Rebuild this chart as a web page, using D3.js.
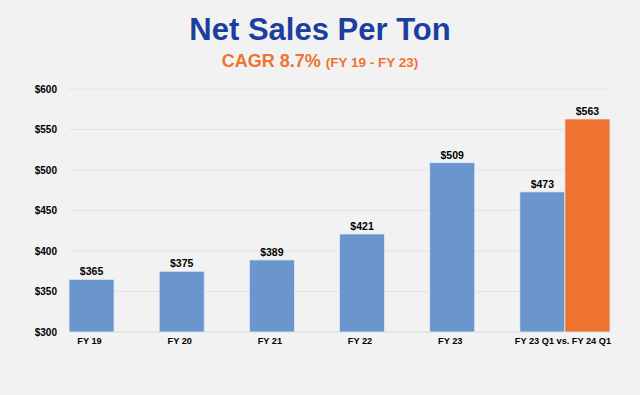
<!DOCTYPE html>
<html lang="en">
<head>
	<meta charset="UTF-8">
	<title>Net Sales Per Ton</title>
	<script src="https://cdn.jsdelivr.net/npm/d3@7"></script>
	<style>
		html, body { margin: 0; padding: 0; background: #f2f2f2; }
		svg { display: block; font-family: "Liberation Sans", Arial, sans-serif; }
	</style>
</head>
<body>
	<svg id="svg"></svg>
	<script>
		var categories = ["FY 19", "FY 20", "FY 21", "FY 22", "FY 23", "FY 23 Q1 vs. FY 24 Q1"];
		var series = ["base", "current"];
		var baseValues = [365, 375, 389, 421, 509, 473];
		var currentValues = [null, null, null, null, null, 563];
		var yTicks = [300, 350, 400, 450, 500, 550, 600];

		var w = 640, h = 395,
			svg = d3.select("#svg").attr("width", w).attr("height", h);

		svg.append("rect").attr("width", w).attr("height", h).attr("fill", "#f2f2f2");

		// title block
		svg.append("text")
			.attr("x", 320).attr("y", 40)
			.attr("text-anchor", "middle")
			.attr("font-size", 31).attr("font-weight", "bold")
			.attr("fill", "#1c3f9f")
			.text("Net Sales Per Ton");

		var sub = svg.append("text")
			.attr("x", 320).attr("y", 67)
			.attr("text-anchor", "middle")
			.attr("font-weight", "bold")
			.attr("fill", "#ed7431");
		sub.append("tspan").attr("font-size", 18).text("CAGR 8.7% ");
		sub.append("tspan").attr("font-size", 13.5).text("(FY 19 - FY 23)");

		var x0 = d3.scaleBand().domain(categories).range([69, 610]).padding(0);
		var x1 = d3.scaleBand().domain(series).range([0, x0.bandwidth()]).padding(0);
		var y = d3.scaleLinear().domain([300, 600]).range([332, 89]);

		// grid
		svg.append("g").selectAll("line")
			.data(yTicks)
			.enter().append("line")
			.attr("x1", 69).attr("x2", 610)
			.attr("y1", function(d) { return y(d); })
			.attr("y2", function(d) { return y(d); })
			.attr("stroke", function(d) { return d == 300 ? "#d9d9d9" : "#e3e3e3"; })
			.attr("stroke-width", 1);

		// y axis labels
		var yAxis = svg.append("g")
			.attr("transform", "translate(57,0)")
			.call(d3.axisLeft(y).tickValues(yTicks).tickSize(0).tickPadding(0)
				.tickFormat(function(d) { return "$" + d; }));
		yAxis.select(".domain").remove();
		yAxis.selectAll("text")
			.attr("font-family", "Liberation Sans, Arial, sans-serif")
			.attr("font-size", 10).attr("font-weight", "bold").attr("fill", "#000");

		var rows = categories.map(function(c, i) {
			return { cat: c, base: baseValues[i], current: currentValues[i] };
		});

		var colors = { base: "#6b96cd", current: "#ee7230" };

		var groups = svg.append("g").selectAll("g")
			.data(rows)
			.enter().append("g")
			.attr("transform", function(d) { return "translate(" + x0(d.cat) + ",0)"; });

		var bars = groups.selectAll("g.bar")
			.data(function(d) {
				return series.filter(function(s) { return d[s] != null; })
					.map(function(s) { return { key: s, value: d[s] }; });
			})
			.enter().append("g").attr("class", "bar");

		bars.append("rect")
			.attr("x", function(d) { return x1(d.key); })
			.attr("y", function(d) { return y(d.value); })
			.attr("width", x1.bandwidth())
			.attr("height", function(d) { return y(300) - y(d.value); })
			.attr("fill", function(d) { return colors[d.key]; })
			.attr("stroke", "#e4ecf6").attr("stroke-width", 0.8);

		bars.append("text")
			.attr("x", function(d) { return x1(d.key) + x1.bandwidth() / 2; })
			.attr("y", function(d) { return y(d.value) - 4; })
			.attr("text-anchor", "middle")
			.attr("font-size", 10.5).attr("font-weight", "bold")
			.text(function(d) { return "$" + d.value; });

		// category labels: centred under the bars that are drawn
		groups.append("text")
			.attr("x", function(d) {
				return (d.current != null ? x0.bandwidth() / 2 : x1("base") + x1.bandwidth() / 2) - 2;
			})
			.attr("y", 344)
			.attr("text-anchor", "middle")
			.attr("font-size", 9.2).attr("font-weight", "bold")
			.text(function(d) { return d.cat; });
	</script>
</body>
</html>
